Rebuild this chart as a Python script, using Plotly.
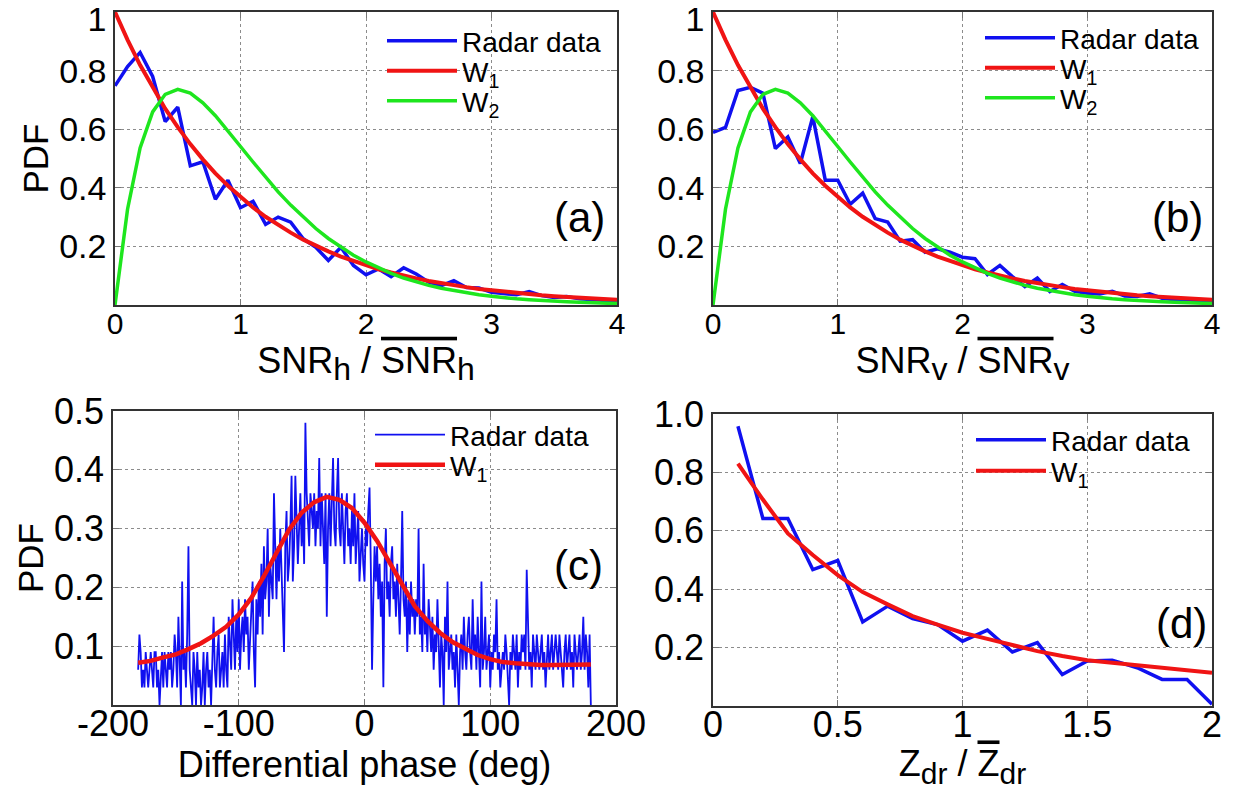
import plotly.graph_objects as go

# ---------------- data ----------------
snr_x = [round(i * 0.1, 1) for i in range(41)]

snr_h_radar = [0.748, 0.814, 0.862, 0.780, 0.626, 0.675, 0.475, 0.489, 0.361, 0.426,
               0.332, 0.354, 0.275, 0.300, 0.283, 0.226, 0.197, 0.152, 0.197, 0.135,
               0.103, 0.123, 0.097, 0.127, 0.106, 0.078, 0.066, 0.083, 0.060, 0.058,
               0.043, 0.040, 0.035, 0.046, 0.032, 0.026, 0.029, 0.021, 0.018, 0.016, 0.013]

snr_v_radar = [0.589, 0.606, 0.732, 0.743, 0.723, 0.534, 0.574, 0.483, 0.643, 0.426,
               0.426, 0.344, 0.382, 0.295, 0.283, 0.218, 0.223, 0.180, 0.192, 0.180,
               0.163, 0.158, 0.104, 0.135, 0.097, 0.063, 0.092, 0.046, 0.070, 0.047,
               0.040, 0.038, 0.047, 0.031, 0.029, 0.038, 0.023, 0.018, 0.017, 0.015, 0.013]

snr_w1 = [1.000, 0.905, 0.819, 0.741, 0.670, 0.607, 0.549, 0.497, 0.449, 0.407,
          0.368, 0.333, 0.301, 0.273, 0.247, 0.223, 0.202, 0.183, 0.165, 0.150,
          0.135, 0.122, 0.111, 0.100, 0.091, 0.082, 0.074, 0.067, 0.061, 0.055,
          0.050, 0.045, 0.041, 0.037, 0.033, 0.030, 0.027, 0.025, 0.022, 0.020, 0.018]

snr_w2 = [0.000, 0.327, 0.536, 0.659, 0.719, 0.736, 0.723, 0.690, 0.646, 0.595,
          0.541, 0.488, 0.435, 0.386, 0.341, 0.299, 0.261, 0.227, 0.197, 0.170,
          0.147, 0.126, 0.108, 0.092, 0.079, 0.067, 0.057, 0.049, 0.041, 0.035,
          0.030, 0.025, 0.021, 0.018, 0.015, 0.013, 0.011, 0.009, 0.008, 0.006, 0.005]

phase_x = list(range(-180, 181))
phase_radar = [
    0.06, 0.12, 0.09, 0.03, 0.06, 0.03, 0.09, 0.06, 0.03, 0.06,   # -180
    0.09, 0.06, 0.03, 0.09, 0.09, 0.03, 0.06, 0.00, 0.06, 0.09,   # -170
    0.03, 0.09, 0.06, 0.03, 0.09, 0.06, 0.09, 0.03, 0.06, 0.12,   # -160
    0.09, 0.03, 0.15, 0.06, 0.00, 0.21, 0.06, 0.09, 0.03, 0.12,   # -150
    0.27, 0.06, 0.03, 0.00, 0.09, 0.06, 0.00, 0.09, 0.03, 0.06,   # -140
    0.00, 0.03, 0.09, 0.00, 0.06, 0.09, 0.03, 0.06, 0.00, 0.09,   # -130
    0.15, 0.06, 0.03, 0.09, 0.12, 0.03, 0.06, 0.09, 0.03, 0.12,   # -120
    0.06, 0.03, 0.15, 0.09, 0.06, 0.18, 0.12, 0.06, 0.15, 0.09,   # -110
    0.18, 0.06, 0.12, 0.15, 0.09, 0.18, 0.12, 0.15, 0.06, 0.12,   # -100
    0.15, 0.21, 0.09, 0.03, 0.18, 0.12, 0.21, 0.15, 0.24, 0.12,   # -90
    0.27, 0.18, 0.21, 0.30, 0.15, 0.24, 0.21, 0.18, 0.36, 0.24,   # -80
    0.18, 0.27, 0.21, 0.30, 0.24, 0.15, 0.09, 0.27, 0.33, 0.21,   # -70
    0.24, 0.30, 0.39, 0.21, 0.27, 0.39, 0.33, 0.24, 0.30, 0.36,   # -60
    0.27, 0.33, 0.24, 0.48, 0.36, 0.30, 0.27, 0.36, 0.33, 0.30,   # -50
    0.36, 0.27, 0.33, 0.30, 0.42, 0.27, 0.36, 0.30, 0.24, 0.36,   # -40
    0.15, 0.30, 0.36, 0.27, 0.33, 0.42, 0.30, 0.27, 0.36, 0.42,   # -30
    0.30, 0.27, 0.36, 0.30, 0.24, 0.33, 0.36, 0.27, 0.30, 0.24,   # -20
    0.33, 0.27, 0.36, 0.24, 0.30, 0.33, 0.21, 0.27, 0.30, 0.24,   # -10
    0.21, 0.30, 0.27, 0.33, 0.37, 0.24, 0.06, 0.18, 0.27, 0.21,   # 0
    0.27, 0.18, 0.24, 0.15, 0.21, 0.03, 0.24, 0.30, 0.18, 0.21,   # 10
    0.15, 0.24, 0.27, 0.18, 0.21, 0.15, 0.24, 0.18, 0.12, 0.21,   # 20
    0.33, 0.18, 0.15, 0.21, 0.09, 0.18, 0.12, 0.21, 0.15, 0.18,   # 30
    0.12, 0.18, 0.15, 0.30, 0.12, 0.15, 0.09, 0.24, 0.12, 0.15,   # 40
    0.09, 0.18, 0.12, 0.09, 0.15, 0.06, 0.12, 0.09, 0.18, 0.12,   # 50
    0.03, 0.12, 0.09, 0.00, 0.15, 0.09, 0.21, 0.06, 0.09, 0.12,   # 60
    0.06, 0.09, 0.03, 0.12, 0.06, 0.00, 0.09, 0.12, 0.06, 0.15,   # 70
    0.09, 0.06, 0.12, 0.15, 0.09, 0.06, 0.18, 0.09, 0.12, 0.06,   # 80
    0.15, 0.09, 0.03, 0.21, 0.06, 0.09, 0.15, 0.06, 0.09, 0.12,   # 90
    0.03, 0.09, 0.06, 0.12, 0.09, 0.18, 0.06, 0.09, 0.03, 0.06,   # 100
    0.09, 0.06, 0.12, 0.09, 0.03, 0.00, 0.09, 0.06, 0.12, 0.09,   # 110
    0.06, 0.12, 0.03, 0.09, 0.06, 0.12, 0.09, 0.12, 0.06, 0.23,   # 120
    0.12, 0.06, 0.09, 0.03, 0.12, 0.09, 0.06, 0.12, 0.09, 0.06,   # 130
    0.09, 0.12, 0.06, 0.09, 0.03, 0.09, 0.12, 0.06, 0.09, 0.12,   # 140
    0.06, 0.09, 0.12, 0.09, 0.06, 0.12, 0.09, 0.06, 0.03, 0.09,   # 150
    0.12, 0.06, 0.09, 0.12, 0.06, 0.09, 0.03, 0.12, 0.09, 0.06,   # 160
    0.09, 0.12, 0.06, 0.09, 0.15, 0.06, 0.12, 0.09, 0.03, 0.12,   # 170
    0.00]                                                          # 180

phase_w1_x = list(range(-180, 181, 10))
phase_w1 = [0.072, 0.075, 0.081, 0.086, 0.095, 0.105, 0.118, 0.133, 0.154, 0.182,
            0.219, 0.259, 0.298, 0.327, 0.345, 0.354, 0.349, 0.335, 0.310, 0.279,
            0.242, 0.202, 0.168, 0.143, 0.123, 0.107, 0.095, 0.085, 0.078, 0.073,
            0.071, 0.069, 0.068, 0.068, 0.068, 0.068, 0.069]

zdr_x = [round(0.1 * i, 1) for i in range(1, 21)]
zdr_radar = [0.958, 0.642, 0.642, 0.467, 0.498, 0.288, 0.342, 0.299, 0.279, 0.222,
             0.260, 0.185, 0.217, 0.108, 0.154, 0.157, 0.131, 0.091, 0.091, 0.006]
zdr_w1 = [0.830, 0.707, 0.591, 0.517, 0.448, 0.390, 0.348, 0.308, 0.279, 0.251,
          0.230, 0.208, 0.188, 0.171, 0.157, 0.148, 0.139, 0.131, 0.122, 0.114]

BLUE = "#1010f0"
RED = "#f01414"
GREEN = "#1ee61e"
FONT = "Liberation Sans, Arial, sans-serif"
W, H = 1236, 790

# pixel boxes of the four plot areas (left, right, top, bottom)
boxes = {
    1: (115, 617, 12, 305),
    2: (713, 1212, 12, 305),
    3: (113, 616, 411, 705),
    4: (713, 1212, 414, 706),
}

fig = go.Figure()

def add(xs, ys, color, name, ax, legend, width=3.5):
    fig.add_trace(go.Scatter(
        x=xs, y=ys, mode="lines", name=name,
        line=dict(color=color, width=width),
        xaxis="x" if ax == 1 else f"x{ax}", yaxis="y" if ax == 1 else f"y{ax}",
        legend=legend, showlegend=True))

add(snr_x, snr_h_radar, BLUE, "Radar data", 1, "legend", 3.5)
add(snr_x, snr_w1, RED, "W<sub>1</sub>", 1, "legend2", 4)
add(snr_x, snr_w2, GREEN, "W<sub>2</sub>", 1, "legend3", 3.5)

add(snr_x, snr_v_radar, BLUE, "Radar data", 2, "legend4", 3.5)
add(snr_x, snr_w1, RED, "W<sub>1</sub>", 2, "legend5", 4)
add(snr_x, snr_w2, GREEN, "W<sub>2</sub>", 2, "legend6", 3.5)

add(phase_x, phase_radar, BLUE, "Radar data", 3, "legend7", 1.8)
add(phase_w1_x, phase_w1, RED, "W<sub>1</sub>", 3, "legend8", 4.5)

add(zdr_x, zdr_radar, BLUE, "Radar data", 4, "legend9", 3.5)
add(zdr_x, zdr_w1, RED, "W<sub>1</sub>", 4, "legend10", 4)

def axis_common(tickvals, ticktext, tsize):
    return dict(
        tickvals=tickvals, ticktext=ticktext,
        tickfont=dict(family=FONT, size=tsize, color="black"),
        showgrid=True, gridcolor="#8c8c8c", griddash="dot", gridwidth=1,
        showline=True, linecolor="#333333", linewidth=1.5, mirror="allticks",
        ticks="inside", ticklen=6, tickcolor="#777777", zeroline=False,
        automargin=False, ticklabeloverflow="allow",
    )

def xax(i, rng, tickvals, ticktext, title, tsize, tfs, standoff, lstand):
    l, r, t, b = boxes[i]
    d = axis_common(tickvals, ticktext, tsize)
    d.update(domain=[l / W, r / W], range=rng, anchor="y" if i == 1 else f"y{i}",
             title=dict(text=title, font=dict(family=FONT, size=tfs, color="black"),
                        standoff=standoff),
             ticklabelstandoff=lstand)
    return d

def yax(i, rng, tickvals, ticktext, title, tsize, tfs, standoff):
    l, r, t, b = boxes[i]
    d = axis_common(tickvals, ticktext, tsize)
    d.update(domain=[1 - b / H, 1 - t / H], range=rng, anchor="x" if i == 1 else f"x{i}",
             title=dict(text=title, font=dict(family=FONT, size=tfs, color="black"),
                        standoff=standoff),
             ticklabelstandoff=0)
    return d

ov = '<span style="text-decoration:overline">'
def sub(s, size):
    return f'<sub><span style="font-size:{size}px">{s}</span></sub>'

snr_ticks = [0, 1, 2, 3, 4]
pdf_ticks = [0.2, 0.4, 0.6, 0.8, 1.0]
# the top label sits a little lower, as in the reference, so it stays inside the page
top_one = sub("1", 34)
row1_ytext = ["0.2", "0.4", "0.6", "0.8", top_one]

title_a = "SNR" + sub("h", 32) + " / " + ov + "SNR</span>" + sub("h", 32)
title_b = "SNR" + sub("v", 32) + " / " + ov + "SNR</span>" + sub("v", 32)
title_d = "Z" + sub("dr", 30) + " / " + ov + "Z</span>" + sub("dr", 30)

fig.update_layout(
    width=W, height=H, margin=dict(l=0, r=0, t=0, b=0),
    paper_bgcolor="white", plot_bgcolor="white", showlegend=True,
    font=dict(family=FONT, color="black"),
    xaxis=xax(1, [0, 4], snr_ticks, [str(v) for v in snr_ticks], title_a, 30, 36, 0, -9),
    yaxis=yax(1, [0, 1], pdf_ticks, row1_ytext, "PDF", 34, 35, 0),
    xaxis2=xax(2, [0, 4], snr_ticks, [str(v) for v in snr_ticks], title_b, 30, 36, 0, -9),
    yaxis2=yax(2, [0, 1], pdf_ticks, row1_ytext, "", 34, 35, 0),
    xaxis3=xax(3, [-200, 200], [-200, -100, 0, 100, 200], ["-200", "-100", "0", "100", "200"],
               "Differential phase (deg)", 36, 36, 8, -14),
    yaxis3=yax(3, [0, 0.5], [0.1, 0.2, 0.3, 0.4, 0.5], ["0.1", "0.2", "0.3", "0.4", "0.5"],
               "PDF", 36, 35, 0),
    xaxis4=xax(4, [0, 2], [0, 0.5, 1, 1.5, 2], ["0", "0.5", "1", "1.5", "2"],
               title_d, 36, 36, 14, -14),
    yaxis4=yax(4, [0, 1], pdf_ticks, ["0.2", "0.4", "0.6", "0.8", "1.0"], "", 36, 35, 0),
)

legfont = dict(family=FONT, size=28, color="black")
def leg(xpx, ypx):
    return dict(x=xpx / W, y=1 - ypx / H, xanchor="left", yanchor="middle",
                bgcolor="rgba(0,0,0,0)", borderwidth=0, font=legfont,
                itemwidth=70)

# legend rows: (text start x, row centre y) in pixels
legend_pos = [(462, 41), (462, 71), (462, 101),
              (1060, 38), (1060, 68), (1060, 98),
              (450, 435), (450, 465),
              (1051, 440), (1051, 471)]
legs = {}
for k, (tx, ty) in enumerate(legend_pos):
    name = "legend" if k == 0 else f"legend{k + 1}"
    legs[name] = leg(tx - 80, ty)
fig.update_layout(**legs)

for label, xr, yr, xd, yd in [("(a)", "x domain", "y domain", 0.98, 0.30),
                              ("(b)", "x2 domain", "y2 domain", 0.986, 0.30),
                              ("(c)", "x3 domain", "y3 domain", 0.978, 0.476),
                              ("(d)", "x4 domain", "y4 domain", 0.994, 0.284)]:
    fig.add_annotation(text=label, xref=xr, yref=yr, x=xd, y=yd,
                       xanchor="right", yanchor="middle", showarrow=False,
                       font=dict(family=FONT, size=42, color="black"))

fig.write_html("out.html")
